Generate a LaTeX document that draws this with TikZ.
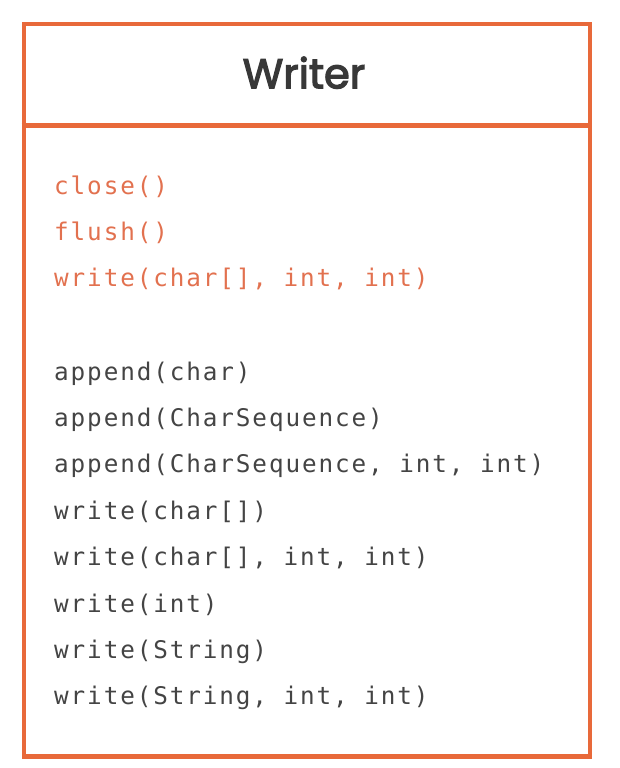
\documentclass[tikz,border=0pt]{standalone}
\usepackage{fontspec}
\setmainfont{Poppins}
\newfontfamily\titlefont[FakeBold=3]{Poppins}
\newfontfamily\codefont[LetterSpace=7.8]{DejaVu Sans Mono}
\definecolor{border}{HTML}{E8693A}
\definecolor{hot}{HTML}{E2714F}
\definecolor{ink}{HTML}{444444}
\definecolor{title}{HTML}{383838}
\begin{document}
\begin{tikzpicture}[x=1pt,y=-1pt,
  frame/.style={draw=border,line width=4.5pt},
  code/.style={anchor=base west,inner sep=0pt,font=\codefont\fontsize{24.3pt}{28pt}\selectfont},
  abstractop/.style={code,text=hot},
  concreteop/.style={code,text=ink},
  titletext/.style={anchor=base,inner sep=0pt,text=title,font=\titlefont\fontsize{41.5pt}{48pt}\selectfont}]
\useasboundingbox (0,0) rectangle (620,768);
\node[frame,minimum width=566pt,minimum height=732pt,anchor=north west,inner sep=0pt] (box) at (21.5,22) {};
\draw[frame] (box.west |- 0,125.5) -- (box.east |- 0,125.5);
\node[titletext] (t) at (304,88.3) {Writer};
\node[abstractop] (a1) at (54,194) {close()};
\node[abstractop] (a2) at (54,240.4) {flush()};
\node[abstractop] (a3) at (54,286.8) {write(char[], int, int)};
\node[concreteop] (c1) at (54,380) {append(char)};
\node[concreteop] (c2) at (54,426.4) {append(CharSequence)};
\node[concreteop] (c3) at (54,472.8) {append(CharSequence, int, int)};
\node[concreteop] (c4) at (54,519.2) {write(char[])};
\node[concreteop] (c5) at (54,565.6) {write(char[], int, int)};
\node[concreteop] (c6) at (54,612) {write(int)};
\node[concreteop] (c7) at (54,658.4) {write(String)};
\node[concreteop] (c8) at (54,704.8) {write(String, int, int)};
\end{tikzpicture}
\end{document}
